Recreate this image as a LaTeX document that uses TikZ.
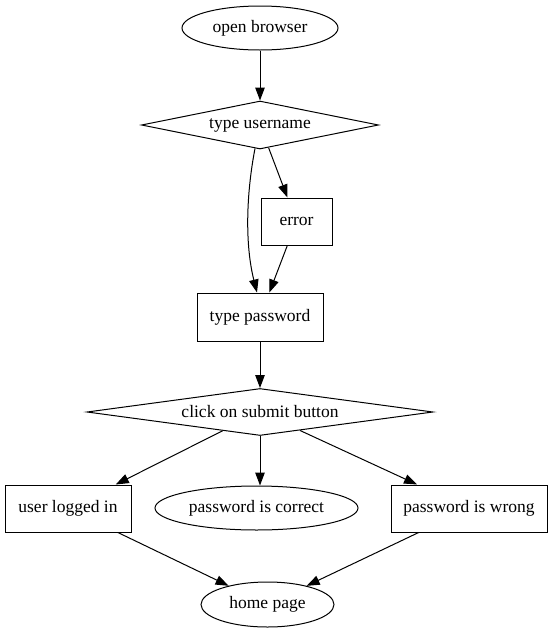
\documentclass[tikz,border=0pt]{standalone}
\usepackage{fontspec}
\setmainfont{Liberation Serif}
\usepackage{tikz}
\usetikzlibrary{shapes.geometric, arrows.meta, positioning}

\begin{document}
\begin{tikzpicture}[
    x=1pt, y=1pt,
    every node/.style={font=\fontsize{17.5}{20}\selectfont},
    decision/.style={draw, diamond, aspect=7, inner sep=0pt,
                     line width=1pt, minimum height=47pt},
    block/.style={draw, rectangle, inner sep=0pt,
                  line width=1pt, minimum height=47pt},
    terminal/.style={draw, ellipse, inner sep=0pt,
                     line width=1pt, minimum height=44pt},
    arrow/.style={-{Triangle[length=13pt,width=9.5pt]}, line width=1pt},
]
\useasboundingbox (0,0) rectangle (554,-635);

\node[terminal, minimum width=156pt] (browser) at (260,-28) {open browser};
\node[decision, minimum width=237pt, minimum height=48pt] (user) at (260,-125) {type username};
\node[block, minimum width=71pt] (error) at (296.5,-221.5) {error};
\node[block, minimum width=126pt, minimum height=48pt] (pass) at (260,-317) {type password};
\node[decision, minimum width=346pt] (submit) at (260,-412) {click on submit button};
\node[block, minimum width=126pt] (logged) at (68,-508.5) {user logged in};
\node[terminal, minimum width=203pt] (correct) at (256.5,-508) {password is correct};
\node[block, minimum width=156pt] (wrong) at (469,-508.5) {password is wrong};
\node[terminal, minimum width=133pt, minimum height=45pt] (home) at (267.5,-604.5) {home page};

\draw[arrow] (browser) -- (user);
\draw[arrow] (user.-102) .. controls (246,-195) and (245,-245) .. (pass.97);
\draw[arrow] (user) -- (error);
\draw[arrow] (error) -- (pass);
\draw[arrow] (pass) -- (submit);
\draw[arrow] (submit) -- (logged);
\draw[arrow] (submit.south) -- (submit.south |- correct.north);
\draw[arrow] (submit) -- (wrong);
\draw[arrow] (logged) -- (home);
\draw[arrow] (wrong) -- (home);
\end{tikzpicture}
\end{document}
